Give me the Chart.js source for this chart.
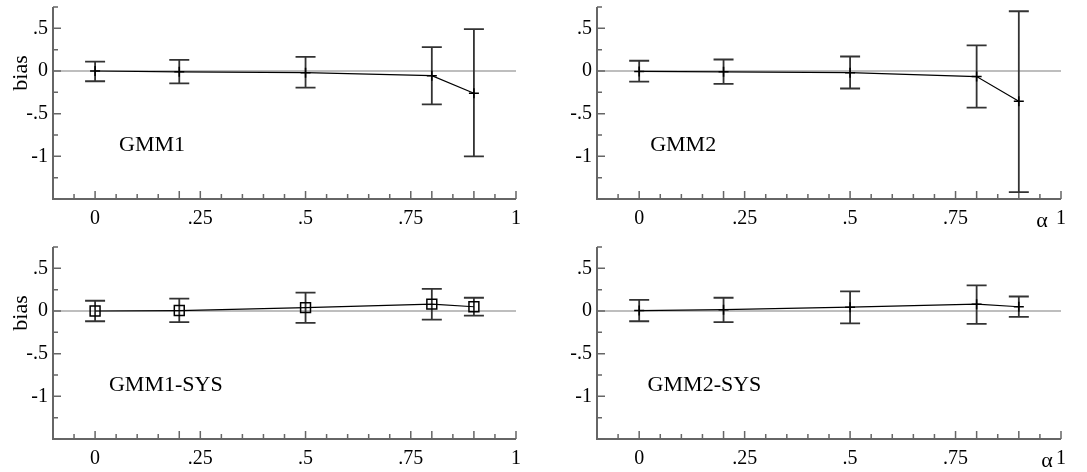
<!DOCTYPE html>
<html>
<head>
<meta charset="utf-8">
<script src="https://cdn.jsdelivr.net/npm/chart.js@4"></script>
<style>
  body { margin: 0; background: #fff; }
  .panel { position: absolute; }
</style>
</head>
<body>
<div class="panel" style="left:0;top:0;width:545px;height:236px"><canvas id="c1"></canvas></div>
<div class="panel" style="left:545px;top:0;width:542px;height:236px"><canvas id="c2"></canvas></div>
<div class="panel" style="left:0;top:236px;width:545px;height:236px"><canvas id="c3"></canvas></div>
<div class="panel" style="left:545px;top:236px;width:542px;height:236px"><canvas id="c4"></canvas></div>
<script>
// alpha values on the x axis
const alphas = [0, 0.2, 0.5, 0.8, 0.9];

// GMM1
const gmm1Bias = [0, -0.01, -0.02, -0.055, -0.26];
const gmm1Hi = [0.11, 0.13, 0.165, 0.28, 0.49];
const gmm1Lo = [-0.12, -0.145, -0.195, -0.39, -1.0];

// GMM2
const gmm2Bias = [-0.005, -0.01, -0.02, -0.065, -0.355];
const gmm2Hi = [0.12, 0.135, 0.17, 0.30, 0.70];
const gmm2Lo = [-0.125, -0.15, -0.205, -0.43, -1.42];

// GMM1-SYS
const sys1Bias = [0, 0.005, 0.04, 0.08, 0.05];
const sys1Hi = [0.12, 0.145, 0.215, 0.26, 0.155];
const sys1Lo = [-0.12, -0.13, -0.14, -0.10, -0.055];

// GMM2-SYS
const sys2Bias = [0.005, 0.015, 0.045, 0.08, 0.05];
const sys2Hi = [0.13, 0.155, 0.23, 0.30, 0.17];
const sys2Lo = [-0.12, -0.13, -0.145, -0.15, -0.07];

// tick labels
const xTicks = [0, 0.25, 0.5, 0.75, 1];
const yTicks = [0.5, 0, -0.5, -1];

const FONT = '"Liberation Serif", "Times New Roman", serif';

function fmt(v) {
    if (v === 0) return '0';
    return String(v).replace('0.', '.');
}

// axes, inward ticks, zero line, error bars and panel labels
const decor = {
    id: 'decor',
    beforeDatasetsDraw(chart, args, opts) {
        const ctx = chart.ctx;
        const x = chart.scales.x, y = chart.scales.y;
        const a = chart.chartArea;
        ctx.save();
        // zero line
        ctx.strokeStyle = '#a8a8a8';
        ctx.lineWidth = 1.5;
        ctx.beginPath();
        ctx.moveTo(a.left, y.getPixelForValue(0));
        ctx.lineTo(a.right, y.getPixelForValue(0));
        ctx.stroke();
        // axis lines
        ctx.strokeStyle = '#666';
        ctx.lineWidth = 2;
        ctx.beginPath();
        ctx.moveTo(a.left, a.top);
        ctx.lineTo(a.left, a.bottom);
        ctx.lineTo(a.right, a.bottom);
        ctx.stroke();
        // y ticks every 0.25
        ctx.lineWidth = 1.5;
        ctx.beginPath();
        for (let v = 0.75; v >= -1.5; v -= 0.25) {
            const py = y.getPixelForValue(v);
            const major = Math.abs(v * 2 - Math.round(v * 2)) < 1e-6;
            ctx.moveTo(a.left, py);
            ctx.lineTo(a.left + (major ? 8 : 5), py);
        }
        // x ticks every 0.05, taller at labels and data points
        for (let k = -1; k <= 20; k++) {
            const v = k * 0.05;
            const px = x.getPixelForValue(v);
            const major = xTicks.some(t => Math.abs(t - v) < 1e-6) || alphas.some(t => Math.abs(t - v) < 1e-6);
            ctx.moveTo(px, a.bottom);
            ctx.lineTo(px, a.bottom - (major ? 8 : 5));
        }
        ctx.stroke();
        // error bars
        ctx.strokeStyle = '#333';
        ctx.lineWidth = 1.8;
        ctx.beginPath();
        opts.hi.forEach((h, i) => {
            const px = x.getPixelForValue(alphas[i]);
            const t = y.getPixelForValue(h);
            const b = y.getPixelForValue(opts.lo[i]);
            ctx.moveTo(px, t); ctx.lineTo(px, b);
            ctx.moveTo(px - 10, t); ctx.lineTo(px + 10, t);
            ctx.moveTo(px - 10, b); ctx.lineTo(px + 10, b);
        });
        ctx.stroke();
        ctx.restore();
    },
    afterDraw(chart, args, opts) {
        const ctx = chart.ctx;
        const x = chart.scales.x, y = chart.scales.y;
        ctx.save();
        ctx.fillStyle = '#000';
        ctx.font = '22px ' + FONT;
        ctx.textBaseline = 'middle';
        ctx.textAlign = 'left';
        ctx.fillText(opts.name, x.getPixelForValue(opts.nameX), y.getPixelForValue(-0.87));
        if (opts.bias) {
            ctx.translate(21, y.getPixelForValue(0) + 2);
            ctx.rotate(-Math.PI / 2);
            ctx.textAlign = 'center';
            ctx.fillText('bias', 0, 0);
            ctx.setTransform(1, 0, 0, 1, 0, 0);
        }
        if (opts.alpha) {
            ctx.font = '22px ' + FONT;
            ctx.textAlign = 'center';
            ctx.fillText('\u03b1', x.getPixelForValue(1) - opts.alpha, chart.chartArea.bottom + 22);
        }
        ctx.restore();
    }
};

function makePanel(id, bias, hi, lo, marker, name, nameX, opts) {
    const cfg = {
        type: 'line',
        data: {
            datasets: [{
                data: alphas.map((a, i) => ({ x: a, y: bias[i] })),
                borderColor: '#000',
                borderWidth: 1.2,
                pointStyle: marker,
                pointRadius: marker === 'rect' ? 7 : 5,
                pointBorderColor: '#000',
                pointBorderWidth: 1.5,
                pointBackgroundColor: 'rgba(0,0,0,0)',
                tension: 0
            }]
        },
        options: {
            responsive: true,
            maintainAspectRatio: false,
            animation: false,
            layout: { padding: { top: opts.top, right: opts.right, left: 0, bottom: 0 } },
            plugins: {
                legend: { display: false },
                tooltip: { enabled: false },
                decor: { hi: hi, lo: lo, name: name, nameX: nameX, bias: opts.bias, alpha: opts.alpha }
            },
            scales: {
                x: {
                    type: 'linear', min: -0.1, max: 1,
                    grid: { display: false, drawTicks: false },
                    border: { display: false },
                    afterBuildTicks: s => { s.ticks = xTicks.map(v => ({ value: v })); },
                    afterFit: s => { s.height = opts.xh; s.paddingLeft = 0; s.paddingRight = 0; },
                    ticks: {
                        padding: 8, color: '#000', autoSkip: false, maxRotation: 0,
                        font: { family: FONT, size: 20 },
                        callback: v => fmt(v)
                    }
                },
                y: {
                    type: 'linear', min: -1.5, max: 0.75,
                    grid: { display: false, drawTicks: false },
                    border: { display: false },
                    afterBuildTicks: s => { s.ticks = yTicks.map(v => ({ value: v })); },
                    afterFit: s => { s.width = opts.yw; s.paddingTop = 0; s.paddingBottom = 0; },
                    ticks: {
                        padding: 5, color: '#000',
                        font: { family: FONT, size: 20 },
                        callback: v => fmt(v)
                    }
                }
            }
        },
        plugins: [decor]
    };
    return new Chart(document.getElementById(id), cfg);
}

makePanel('c1', gmm1Bias, gmm1Hi, gmm1Lo, 'cross', 'GMM1', 0.057,
    { top: 7, right: 29, xh: 37, yw: 53, bias: true, alpha: 0 });
makePanel('c2', gmm2Bias, gmm2Hi, gmm2Lo, 'cross', 'GMM2', 0.026,
    { top: 7, right: 26, xh: 37, yw: 52, bias: false, alpha: 19 });
makePanel('c3', sys1Bias, sys1Hi, sys1Lo, 'rect', 'GMM1-SYS', 0.033,
    { top: 11, right: 29, xh: 33, yw: 53, bias: true, alpha: 0 });
makePanel('c4', sys2Bias, sys2Hi, sys2Lo, 'cross', 'GMM2-SYS', 0.02,
    { top: 11, right: 26, xh: 33, yw: 52, bias: false, alpha: 14 });
</script>
</body>
</html>
